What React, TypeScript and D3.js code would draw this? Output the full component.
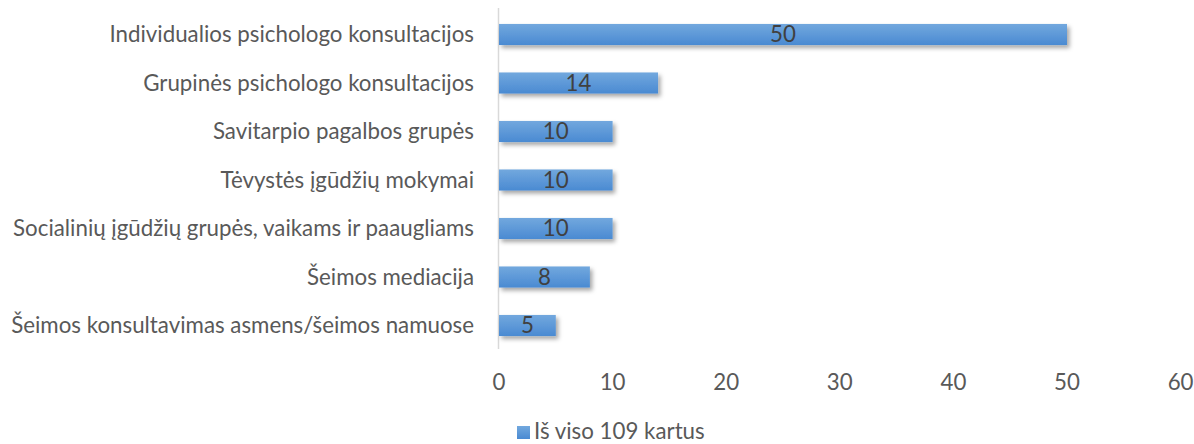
import React from "react";
import * as d3 from "d3";

const categories = [
  "Individualios psichologo konsultacijos",
  "Grupinės psichologo konsultacijos",
  "Savitarpio pagalbos grupės",
  "Tėvystės įgūdžių mokymai",
  "Socialinių įgūdžių grupės, vaikams ir paaugliams",
  "Šeimos mediacija",
  "Šeimos konsultavimas asmens/šeimos namuose",
];
const values = [50, 14, 10, 10, 10, 8, 5];
const xTicks = [0, 10, 20, 30, 40, 50, 60];
const seriesName = "Iš viso 109 kartus";

const W = 1194;
const H = 444;
const FS = 22.3;

export default function App() {
  const x = d3.scaleLinear().domain([0, 60]).range([499, 1180.6]);
  const y = d3
    .scaleBand<string>()
    .domain(categories)
    .range([10.25, 349.75])
    .paddingInner(0.565)
    .paddingOuter(0.2825);
  const font = "Lato, Carlito, Calibri, sans-serif";
  return (
    <svg
      width={W}
      height={H}
      style={{ position: "absolute", left: 0, top: 0, background: "#fff" }}
      fontFamily={font}
    >
      <defs>
        <linearGradient id="barGrad" x1="0" y1="0" x2="0" y2="1">
          <stop offset="0%" stopColor="#72a8de" />
          <stop offset="100%" stopColor="#4a8ad2" />
        </linearGradient>
        <filter id="shadow" x="-10%" y="-50%" width="130%" height="250%">
          <feDropShadow dx="2.5" dy="3" stdDeviation="2" floodColor="#000" floodOpacity="0.35" />
        </filter>
      </defs>
      <line x1={498.5} x2={498.5} y1={8} y2={349} stroke="#d9d9d9" strokeWidth={1.5} />
      {categories.map((c, i) => (
        <g key={c}>
          <rect
            x={x(0)}
            y={y(c)!}
            width={x(values[i]) - x(0)}
            height={y.bandwidth()}
            fill="url(#barGrad)"
            filter="url(#shadow)"
          />
          <text
            x={(x(0) + x(values[i])) / 2}
            y={y(c)! + y.bandwidth() / 2}
            dy="0.35em"
            textAnchor="middle"
            fontSize={FS}
            fill="#404040"
          >
            {values[i]}
          </text>
          <text
            x={474}
            y={y(c)! + y.bandwidth() / 2}
            dy="0.35em"
            textAnchor="end"
            fontSize={FS}
            fill="#595959"
          >
            {c}
          </text>
        </g>
      ))}
      {xTicks.map((t) => (
        <text key={t} x={x(t)} y={382} dy="0.35em" textAnchor="middle" fontSize={FS} fill="#595959">
          {t}
        </text>
      ))}
      <rect x={517} y={426} width={13} height={13} fill="url(#barGrad)" />
      <text x={534} y={431.5} dy="0.35em" fontSize={FS} fill="#595959">
        {seriesName}
      </text>
    </svg>
  );
}
